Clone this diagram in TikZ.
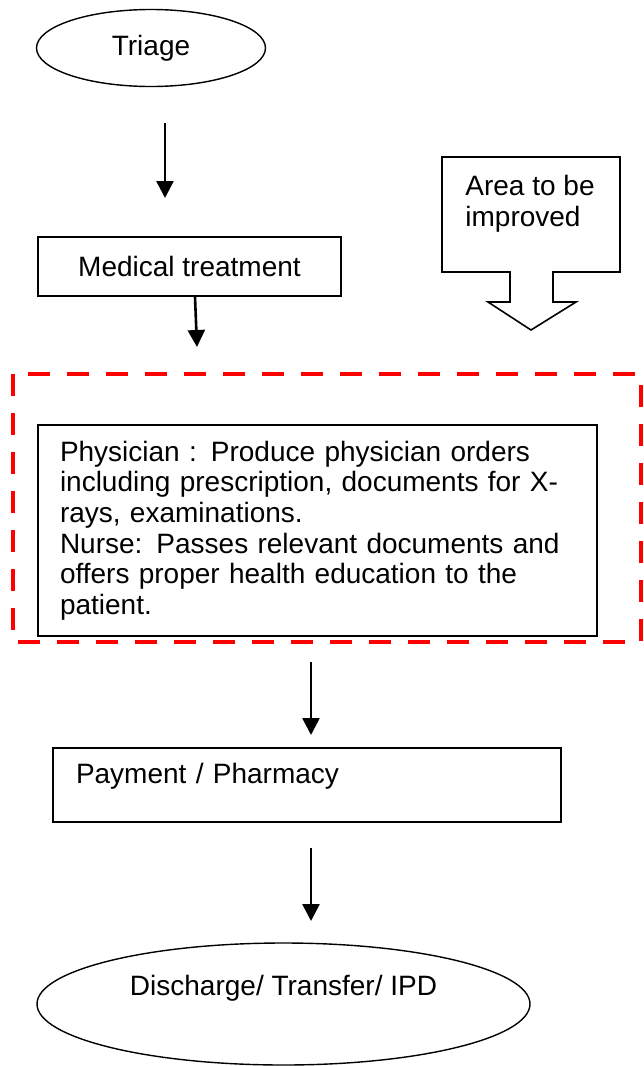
\documentclass[tikz,border=0pt]{standalone}
\usepackage{fontspec}
\setmainfont{Liberation Sans}
\usetikzlibrary{arrows.meta, shapes.geometric}

\begin{document}
\begin{tikzpicture}[
    x=0.5pt, y=-0.5pt,
    % GLOBAL CFG
    font=\fontsize{14}{15.3}\selectfont,
    >={Triangle[length=8.5pt, width=8.5pt]},
    % Styles
    terminal/.style={% For start and end of the flow
        ellipse,
        draw,
        line width=0.7pt,
        inner sep=0pt,
        },
    stepbox/.style={% For the plain process boxes
        rectangle,
        draw,
        line width=0.8pt,
        inner sep=0pt,
        },
    flow/.style={% Downward arrows
        ->,
        line width=1.3pt,
        },
    focus/.style={% Red dashed frame
        draw=red,
        line width=2pt,
        dash pattern=on 11pt off 8.5pt,
        },
    callout/.style={% Block arrow with text
        draw,
        line width=0.8pt,
        line join=miter,
        },
    ]

\useasboundingbox (0,0) rectangle (643,1066);

%Start drawing the thing...
    % Draw the steps
    \node [terminal, minimum width=114.5pt, minimum height=38.5pt] (triage) at (151,48) {Triage};
    \node [stepbox, minimum width=151.5pt, minimum height=29.5pt] (treat) at (189.5,266.5) {Medical treatment};
    \node [stepbox, minimum width=279.5pt, minimum height=105.5pt, inner xsep=11pt, text width=257.5pt, align=left] (orders) at (317.5,530.5)
        {Physician : Produce physician orders\\including prescription, documents for X-\\rays, examinations.\\Nurse: Passes relevant documents and\\offers proper health education to the\\patient.};
    \node [stepbox, minimum width=254pt, text height=17.5pt, text depth=19.5pt, inner xsep=11.5pt, text width=231pt, align=left] (pay) at (307,785) {Payment / Pharmacy};
    \node [terminal, minimum width=246.5pt, minimum height=61pt, text height=10pt, text depth=19pt] (exit) at (283.5,1004) {Discharge/ Transfer/ IPD};

    % Draw the area to be improved
    \draw [callout] (442,157) -- (620,157) -- (620,272) -- (553,272) -- (553,302) -- (576,302) -- (531,330) -- (488,302) -- (510,302) -- (510,272) -- (442,272) -- cycle;
    \node [anchor=north west, align=left, inner sep=0pt] (area) at (465,175) {Area to be\\improved};
    \draw [focus] (13,374) rectangle (641,642);

% Start connecting all.
    \coordinate (a1s) at (165,123);
    \coordinate (a1e) at (165,198);
    \coordinate (a2e) at (197,347);
    \coordinate (a3s) at (311,662);
    \coordinate (a3e) at (311,735);
    \coordinate (a4s) at (311,848);
    \coordinate (a4e) at (311,921);

    \draw [flow] (a1s) -- (a1e);
    \draw [flow] ([xshift=2.75pt]treat.south) -- (a2e);
    \draw [flow] (a3s) -- (a3e);
    \draw [flow] (a4s) -- (a4e);

\end{tikzpicture}
\end{document}
